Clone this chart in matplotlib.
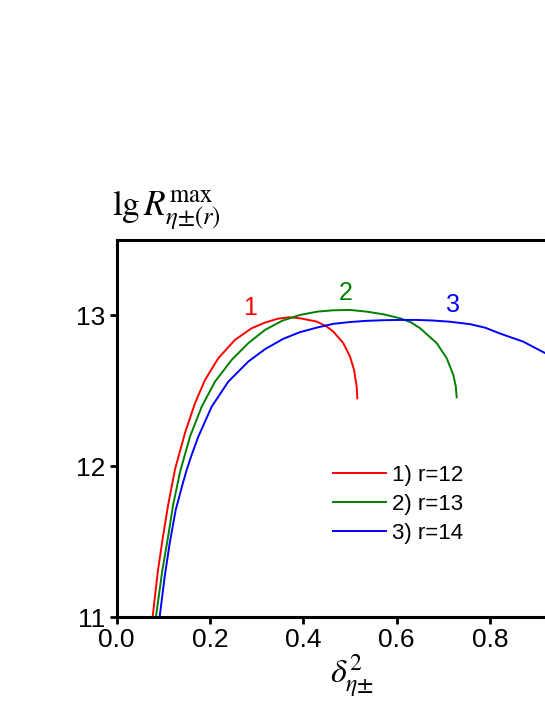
import numpy as np
import matplotlib
matplotlib.use('Agg')
import matplotlib.pyplot as plt

plt.rcParams['font.family'] = 'Liberation Sans'
plt.rcParams['mathtext.fontset'] = 'stix'

# Curve 1) r=12
x_r12 = [0.077, 0.088, 0.099, 0.110, 0.125, 0.1463, 0.1678, 0.1892, 0.2177,
         0.2535, 0.2892, 0.3178, 0.345, 0.370, 0.3928, 0.4285, 0.448, 0.464,
         0.4856, 0.4999, 0.5085, 0.5142, 0.5156]
y_r12 = [11.0, 11.30, 11.53, 11.74, 11.98, 12.22, 12.418, 12.572, 12.716,
         12.838, 12.915, 12.952, 12.978, 12.988, 12.981, 12.959, 12.93,
         12.893, 12.816, 12.727, 12.639, 12.528, 12.45]

# Curve 2) r=13
x_r13 = [0.084, 0.0978, 0.110, 0.1207, 0.1356, 0.157, 0.1821, 0.2106, 0.2464,
         0.282, 0.3178, 0.355, 0.3928, 0.43, 0.464, 0.50, 0.5357, 0.572,
         0.607, 0.63, 0.65, 0.6857, 0.7071, 0.7213, 0.7265, 0.7285]
y_r13 = [11.0, 11.31, 11.53, 11.74, 11.96, 12.196, 12.395, 12.561, 12.705,
         12.816, 12.904, 12.965, 13.003, 13.025, 13.034, 13.036, 13.025,
         13.007, 12.981, 12.955, 12.915, 12.816, 12.716, 12.605, 12.53,
         12.457]

# Curve 3) r=14
x_r14 = [0.092, 0.1029, 0.1136, 0.1264, 0.142, 0.150, 0.160, 0.1749, 0.2035,
         0.2392, 0.282, 0.3178, 0.357, 0.3928, 0.43, 0.464, 0.50, 0.5357,
         0.571, 0.607, 0.643, 0.678, 0.714, 0.757, 0.79, 0.821, 0.871, 0.918]
y_r14 = [11.0, 11.27, 11.49, 11.71, 11.89, 11.976, 12.07, 12.196, 12.395,
         12.561, 12.694, 12.776, 12.845, 12.889, 12.92, 12.944, 12.956,
         12.964, 12.968, 12.970, 12.970, 12.966, 12.958, 12.942, 12.918,
         12.88, 12.826, 12.75]

labels = ['1) r=12', '2) r=13', '3) r=14']
colors = ['#ff0000', '#008000', '#0000ff']
curve_tags = ['1', '2', '3']
tag_pos = [(0.2857, 13.048), (0.491, 13.147), (0.721, 13.07)]

fig = plt.figure(figsize=(5.45, 7.05), dpi=100)
ax = fig.add_axes([116.7 / 545, 88 / 705, 428.3 / 545, 377 / 705])

for xs, ys, lab, c in zip([x_r12, x_r13, x_r14], [y_r12, y_r13, y_r14],
                          labels, colors):
    ax.plot(xs, ys, color=c, lw=1.4, label=lab, solid_joinstyle='round')

for tag, (tx, ty), c in zip(curve_tags, tag_pos, colors):
    ax.text(tx, ty, tag, color=c, fontsize=18, ha='center', va='center')

ax.set_xlim(0, 0.9177)
ax.set_ylim(11, 13.5)
ax.set_xticks([0.0, 0.2, 0.4, 0.6, 0.8])
ax.set_xticklabels(['0.0', '0.2', '0.4', '0.6', '0.8'])
ax.set_yticks([11, 12, 13])
ax.set_yticklabels(['11', '12', '13'])

for side in ['left', 'bottom', 'top']:
    ax.spines[side].set_linewidth(2.2)
ax.spines['right'].set_visible(False)
ax.tick_params(direction='out', length=5, width=2, labelsize=19, pad=3,
               top=False, right=False)

# unicode ± avoids the binary-operator spacing of \pm
ax.set_xlabel('$\\delta^{2}_{\\eta±}$', fontsize=24.5)
ax.xaxis.set_label_coords(0.549, -0.175)
ax.xaxis.label.set_verticalalignment('baseline')

ax.set_ylabel('$\\mathrm{lg}\\,R^{\\mathrm{max}}_{\\eta±(r)}$', fontsize=25.5,
              rotation=0)
ax.yaxis.set_label_coords(-0.0117, 1.064)
ax.yaxis.label.set_horizontalalignment('left')
ax.yaxis.label.set_verticalalignment('baseline')

ax.legend(frameon=False, loc='center left', bbox_to_anchor=(0.5057, 0.299),
          borderaxespad=0, borderpad=0, fontsize=16, handlelength=2.37,
          handletextpad=0.26, labelspacing=0.36)

fig.savefig('out.png', dpi=100)
